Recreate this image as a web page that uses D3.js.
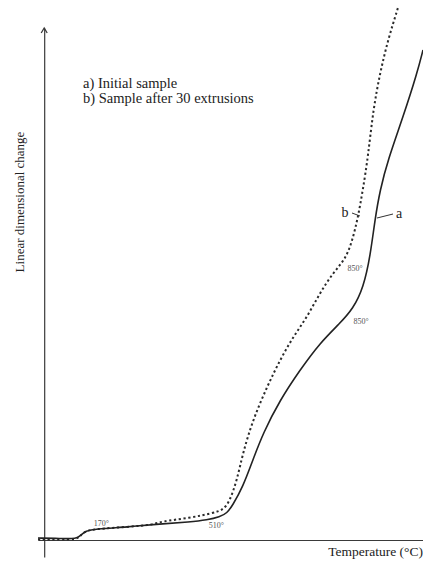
<!DOCTYPE html>
<html>
<head>
<meta charset="utf-8">
<script src="https://cdn.jsdelivr.net/npm/d3@7"></script>
<style>
  html, body { margin: 0; padding: 0; background: #fff; }
  svg { display: block; }
</style>
</head>
<body>
<svg id="chart" width="423" height="562"></svg>
<script>
// Dilatometric curves: linear dimensional change vs temperature (relative units)
const tempA = [-35, 29, 78, 90, 104, 130, 224, 320, 407, 457, 494, 515, 530, 561, 590, 620, 669, 727, 785, 844, 881, 912, 932, 945, 960, 983, 1027, 1068, 1085];
const changeA = [0.4, 0.3, 0.2, 1.0, 1.8, 2.2, 2.6, 3.2, 3.6, 4.0, 4.6, 5.4, 6.8, 10.6, 16, 21.4, 28, 34, 39.4, 43.4, 46.2, 50.5, 57, 64, 70, 76, 84.6, 93.4, 98];

const tempB = [-35, 29, 78, 90, 104, 130, 224, 305, 320, 407, 474, 503, 522, 544, 561, 590, 631, 669, 707, 748, 785, 823, 860, 880, 896, 910, 925, 940, 960, 983, 1012];
const changeB = [0.1, 0.1, 0.1, 1.0, 1.8, 2.2, 2.6, 3.1, 3.7, 4.4, 5.4, 6.0, 7.6, 12, 17.4, 24, 30.6, 36, 40.6, 44.6, 49.4, 53.4, 56.2, 60, 64.6, 70, 76.6, 86, 93.4, 100, 106.4];

const legendLines = ["a) Initial sample", "b) Sample after 30 extrusions"];
const tempMarks = [170, 510, 850, 850];
const tempMarkText = ["170\u00b0", "510\u00b0", "850\u00b0", "850\u00b0"];
const tempMarkCurve = ["a", "a", "b", "a"];

const serif = "'Liberation Serif', 'Times New Roman', serif";
const svg = d3.select("#chart");

const x = d3.scaleLinear().domain([-35, 1085]).range([38, 423]);
const y = d3.scaleLinear().domain([0, 100]).range([540, 40]);

// axes (no ticks, just the lines)
const yAxisScale = y.copy().domain([y.invert(557), y.invert(28)]).range([557, 28]);
const axisColor = "#3a3a3a";

const gx = svg.append("g")
  .attr("transform", `translate(0,${y(0)})`)
  .call(d3.axisBottom(x).tickValues([]).tickSizeOuter(0));
gx.select(".domain").attr("stroke", axisColor).attr("stroke-width", 1.2);

const gy = svg.append("g")
  .attr("transform", `translate(${x(-17)},0)`)
  .call(d3.axisLeft(yAxisScale).tickValues([]).tickSizeOuter(0));
gy.select(".domain").attr("stroke", axisColor).attr("stroke-width", 1.2);

// arrow head at the top of the vertical axis
const ax = x(-17), ay = yAxisScale.range()[1];
svg.append("path")
  .attr("d", `M${ax - 3},${ay + 5} L${ax},${ay} L${ax + 3},${ay + 5}`)
  .attr("fill", "none").attr("stroke", axisColor).attr("stroke-width", 1.3);

const line = d3.line().curve(d3.curveBasis);

const ptsA = tempA.map((t, i) => [x(t), y(changeA[i])]);
const ptsB = tempB.map((t, i) => [x(t), y(changeB[i])]);

svg.append("path")
  .attr("d", line(ptsB))
  .attr("fill", "none").attr("stroke", "#2a2a2a")
  .attr("stroke-width", 2).attr("stroke-dasharray", "2.2,2.6");

svg.append("path")
  .attr("d", line(ptsA))
  .attr("fill", "none").attr("stroke", "#222")
  .attr("stroke-width", 1.6);

// curve labels with leader lines
svg.append("line").attr("x1", 352).attr("y1", 213).attr("x2", 360).attr("y2", 216)
  .attr("stroke", "#333").attr("stroke-width", 1);
svg.append("text").attr("x", 345).attr("y", 217).attr("text-anchor", "middle")
  .attr("font-family", serif).attr("font-size", 14).attr("fill", "#222").text("b");
svg.append("line").attr("x1", 377).attr("y1", 218).attr("x2", 393).attr("y2", 214)
  .attr("stroke", "#333").attr("stroke-width", 1);
svg.append("text").attr("x", 399).attr("y", 218).attr("text-anchor", "middle")
  .attr("font-family", serif).attr("font-size", 14).attr("fill", "#222").text("a");

// temperature marks along the curves
const markOffsets = [[-7, -2], [-9, 14], [13, 8], [19, 3]];
tempMarks.forEach((t, i) => {
  const ts = tempMarkCurve[i] === "a" ? tempA : tempB;
  const vs = tempMarkCurve[i] === "a" ? changeA : changeB;
  const interp = d3.scaleLinear().domain(ts).range(vs);
  svg.append("text")
    .attr("x", x(t) + markOffsets[i][0])
    .attr("y", y(interp(t)) + markOffsets[i][1])
    .attr("text-anchor", "middle")
    .attr("font-family", serif)
    .attr("font-size", 8)
    .attr("fill", "#555")
    .text(tempMarkText[i]);
});

// legend
svg.selectAll("text.legend").data(legendLines).enter().append("text")
  .attr("class", "legend")
  .attr("x", 83).attr("y", (d, i) => 88 + i * 15)
  .attr("font-family", serif)
  .attr("font-size", 14.5)
  .attr("fill", "#222")
  .text(d => d);

// axis titles
svg.append("text")
  .attr("transform", "translate(24,202) rotate(-90)")
  .attr("text-anchor", "middle")
  .attr("font-family", serif)
  .attr("font-size", 13)
  .attr("fill", "#222")
  .text("Linear dimensional change");

svg.append("text")
  .attr("x", 423).attr("y", 556)
  .attr("text-anchor", "end")
  .attr("font-family", serif)
  .attr("font-size", 13.5)
  .attr("fill", "#222")
  .text("Temperature (\u00b0C)");
</script>
</body>
</html>
